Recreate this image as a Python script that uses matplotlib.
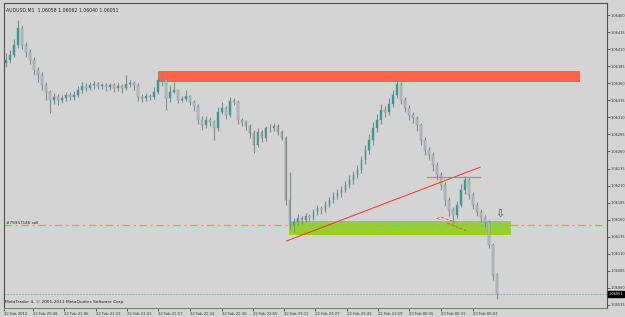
import numpy as np
import matplotlib
matplotlib.use("Agg")
import matplotlib.pyplot as plt
from matplotlib.patches import Rectangle

plt.rcParams["font.family"] = ["DejaVu Sans"]

# prices stored as points above 1.06000 (1 point = 0.00001)
BASE = 1.06
open_pts = [390, 394, 401, 416, 441, 416, 406, 394, 379, 372, 357, 347, 335, 340, 335, 338,
            343, 340, 343, 350, 356, 353, 357, 359, 356, 357, 354, 357, 353, 356, 353, 359,
            360, 357, 340, 338, 341, 340, 347, 365, 365, 338, 347, 350, 335, 337, 341, 333,
            327, 306, 299, 306, 303, 294, 318, 324, 313, 334, 333, 306, 303, 297, 287, 269,
            289, 280, 294, 294, 297, 289, 280, 189, 152, 157, 163, 160, 165, 163, 171, 177,
            174, 182, 189, 195, 199, 204, 211, 218, 226, 233, 247, 262, 277, 294, 306, 321,
            318, 330, 343, 359, 335, 324, 313, 309, 299, 277, 262, 255, 240, 226, 211, 189,
            174, 167, 182, 204, 218, 196, 182, 171, 163, 157, 123, 79]
close_pts = [394, 401, 416, 441, 416, 406, 394, 379, 372, 357, 347, 335, 340, 335, 338, 343,
             340, 343, 350, 356, 353, 357, 359, 356, 357, 354, 357, 353, 356, 353, 359, 360,
             357, 340, 338, 341, 340, 347, 365, 365, 338, 347, 350, 335, 337, 341, 333, 327,
             306, 299, 306, 303, 294, 318, 324, 313, 334, 333, 306, 303, 297, 287, 269, 289,
             280, 294, 294, 297, 289, 280, 189, 152, 157, 163, 160, 165, 163, 171, 177, 174,
             182, 189, 195, 199, 204, 211, 218, 226, 233, 247, 262, 277, 294, 306, 321, 318,
             330, 343, 359, 335, 324, 313, 309, 299, 277, 262, 255, 240, 226, 211, 189, 174,
             167, 182, 204, 218, 196, 182, 171, 163, 157, 123, 79, 51]
high_pts = [404, 408, 425, 453, 446, 420, 410, 398, 384, 376, 362, 350, 346, 344, 343, 347,
            347, 348, 356, 362, 360, 362, 364, 362, 361, 360, 361, 360, 360, 359, 372, 365,
            363, 360, 344, 345, 344, 355, 378, 372, 367, 357, 362, 352, 341, 350, 343, 336,
            330, 312, 312, 310, 306, 325, 333, 327, 340, 338, 335, 309, 306, 300, 291, 294,
            292, 298, 300, 301, 300, 292, 283, 230, 163, 168, 166, 170, 169, 176, 182, 180,
            188, 194, 201, 205, 210, 217, 225, 232, 240, 254, 270, 285, 303, 315, 330, 327,
            338, 350, 368, 362, 340, 328, 318, 312, 302, 281, 266, 259, 244, 230, 215, 194,
            178, 188, 212, 224, 221, 200, 186, 175, 167, 160, 126, 82]
low_pts = [384, 390, 398, 412, 410, 398, 388, 372, 362, 350, 335, 316, 330, 328, 331, 334,
           335, 336, 340, 346, 348, 350, 352, 351, 351, 349, 350, 347, 349, 346, 350, 354,
           350, 334, 333, 334, 335, 337, 344, 356, 321, 333, 345, 331, 332, 334, 328, 320,
           300, 292, 294, 297, 277, 290, 315, 308, 311, 328, 300, 298, 291, 280, 258, 266,
           274, 276, 288, 290, 284, 277, 182, 145, 142, 152, 154, 156, 158, 160, 167, 168,
           171, 178, 185, 190, 194, 200, 207, 213, 221, 229, 242, 256, 270, 288, 300, 310,
           313, 325, 338, 330, 318, 306, 302, 290, 270, 255, 248, 232, 218, 203, 180, 166,
           155, 162, 178, 198, 190, 176, 165, 157, 150, 118, 72, 44]

date_labels = ["22 Feb 2012", "22 Feb 20:48", "22 Feb 21:06", "22 Feb 21:23", "22 Feb 21:41",
               "22 Feb 21:57", "22 Feb 22:14", "22 Feb 22:30", "22 Feb 22:55", "22 Feb 23:11",
               "22 Feb 23:27", "22 Feb 23:43", "22 Feb 23:59", "23 Feb 00:15", "23 Feb 00:31",
               "23 Feb 00:47"]
date_bars = [-0.5, 6.75, 14.5, 22.5, 30.25, 38.0, 46.0, 54.0, 61.75, 69.5, 77.5, 85.5,
             93.25, 101.0, 109.0, 117.0]

price_ticks = [1.06035 + 0.00025 * k for k in range(18)]
bid = 1.06051
sell_level = 1.061517
resistance = (38.25, 143.75, 1.06362, 1.06378)     # bar from, bar to, price lo, price hi
support = (70.75, 126.5, 1.06138, 1.06158)
trend = ((70.25, 1.061288), (118.75, 1.06237))
flat_line = ((105.5, 118.75), 1.06222)
header = "AUDUSD,M1  1.06058 1.06062 1.06040 1.06051"

o = BASE + np.array(open_pts) / 1e5
c = BASE + np.array(close_pts) / 1e5
h = BASE + np.array(high_pts) / 1e5
l = BASE + np.array(low_pts) / 1e5
x = np.arange(len(c))

bg = "#d4d4d4"
fig = plt.figure(figsize=(6.25, 3.17), dpi=100, facecolor=bg)
ax = fig.add_axes([4 / 625, 9 / 317, 603 / 625, 305 / 317], facecolor=bg)

# zones first so candles sit on top
ax.add_patch(Rectangle((resistance[0], resistance[2]), resistance[1] - resistance[0],
                       resistance[3] - resistance[2], color="#ff6347", lw=0, zorder=1))
ax.add_patch(Rectangle((support[0], support[2]), support[1] - support[0],
                       support[3] - support[2], color="#9acd32", lw=0, zorder=1))

ax.axhline(sell_level, color="#66d466", lw=0.9, ls=(0, (6, 3, 1.5, 3)), zorder=2)
ax.axhline(bid, color="#8aa6a6", lw=0.6, ls=(0, (2, 1.5)), zorder=2)

ax.vlines(x, l, h, color="#7f8c8c", lw=0.8, zorder=3)
up = c >= o
ax.bar(x[up], c[up] - o[up] + 1e-6, bottom=o[up], width=0.45, color="#2e9e96",
       edgecolor="#5f8f8c", lw=0.3, zorder=4)
ax.bar(x[~up], o[~up] - c[~up], bottom=c[~up], width=0.45, color="#b8c0c0",
       edgecolor="#7f8c8c", lw=0.3, zorder=4)

ax.plot([trend[0][0], trend[1][0]], [trend[0][1], trend[1][1]], color="#ff3020", lw=0.7, zorder=5)
ax.plot(flat_line[0], [flat_line[1]] * 2, color="#f07060", lw=0.9, zorder=5)
ax.plot([109.0, 111.75], [1.061635, 1.06158], color="#ff4030", lw=0.6, ls="--", zorder=5)
ax.plot([110.5, 115.25], [1.06155, 1.06144], color="#ff4030", lw=0.6, ls="--", zorder=5)
ax.text(108.2, 1.06163, "<", color="#ff4030", fontsize=4, ha="center", va="center", zorder=5)
ax.text(123.75, 1.06169, "\u21e9", color="#3a5a3a", fontsize=8, ha="center", va="center", zorder=6)

ax.set_xlim(-0.25, 150.5)
ax.set_ylim(1.060306, 1.064776)

ax.yaxis.tick_right()
ax.set_yticks(price_ticks)
ax.set_yticklabels(["%.5f" % p for p in price_ticks])
ax.tick_params(axis="y", labelsize=2.5, length=2, width=0.5, pad=0.6, colors="#303030")
ax.set_xticks(date_bars)
ax.set_xticklabels(date_labels, ha="left")
ax.tick_params(axis="x", labelsize=2.7, length=2, width=0.5, pad=1.0, colors="#303030")

for s in ["left", "top", "right"]:
    ax.spines[s].set_color("#505050")
    ax.spines[s].set_linewidth(0.8)
ax.spines["bottom"].set_color("#708a70")
ax.spines["bottom"].set_linewidth(0.8)

ax.text(0.003, 0.985, header, transform=ax.transAxes, fontsize=3.35, va="top", ha="left", color="#202020")
ax.text(0.002, 0.012, "MetaTrader 4, \u00a9 2001-2011 MetaQuotes Software Corp.",
        transform=ax.transAxes, fontsize=3.1, va="bottom", ha="left", color="#202020")
ax.text(-0.05, sell_level + 0.00001, "#79357146 sell", fontsize=3.0, va="bottom", ha="left", color="#202020")
ax.annotate("%.5f" % bid, xy=(1.0, bid), xycoords=("axes fraction", "data"), xytext=(1.2, 0),
            textcoords="offset points", fontsize=2.5, color="white", va="center", ha="left",
            bbox=dict(boxstyle="square,pad=0.2", fc="black", ec="black"))

fig.savefig("out.png", dpi=100, facecolor=bg)
print("saved out.png")
